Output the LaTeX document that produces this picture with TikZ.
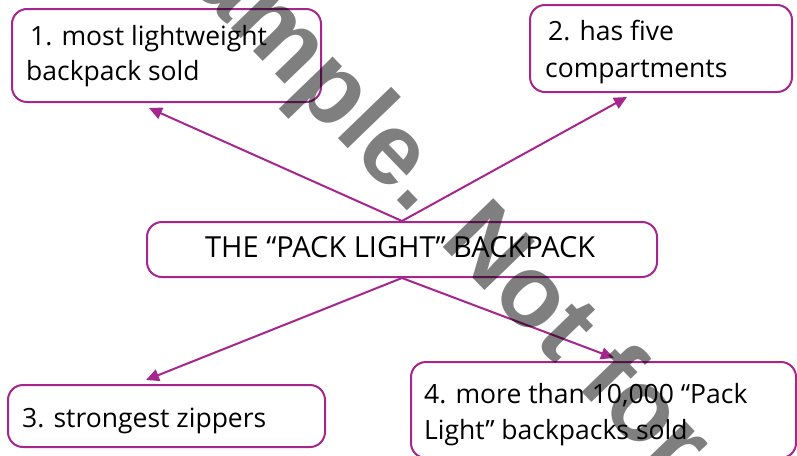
\documentclass[tikz,border=0pt]{standalone}
\usepackage{fontspec}
\setmainfont{Open Sans}
\newfontfamily\wmfont{Liberation Sans}
\usetikzlibrary{arrows.meta}
\definecolor{plum}{RGB}{165,38,140}
\begin{document}
\begin{tikzpicture}[x=1pt,y=-1pt,
  box/.style={draw=plum,line width=2pt,rounded corners=15pt,inner sep=0pt},
  txt/.style={anchor=base west,inner sep=0pt,font=\fontsize{26.5}{30}\selectfont},
  conn/.style={draw=plum,line width=2pt,-{Triangle[length=13pt,width=12pt]}}]
\useasboundingbox (0,0) rectangle (797,455);
\fill[white] (0,0) rectangle (797,455);
% boxes
\node[box,minimum width=309pt,minimum height=93pt] (b1) at (166.5,55.5) {};
\node[box,minimum width=262pt,minimum height=87pt] (b2) at (661,48.5) {};
\node[box,minimum width=510pt,minimum height=55pt] (c) at (402,249.5) {};
\node[box,minimum width=317pt,minimum height=62pt] (b3) at (166.5,416) {};
\node[box,minimum width=385pt,minimum height=96pt] (b4) at (603.5,410) {};
% texts
\node[txt] (t1a) at (30,45) {1. most lightweight};
\node[txt] (t1b) at (26,80) {backpack sold};
\node[txt] (t2a) at (548,40) {2. has five};
\node[txt] (t2b) at (545,77) {compartments};
\node[txt,font=\fontsize{29}{30}\selectfont] (tc) at (205,257) {THE “PACK LIGHT” BACKPACK};
\node[txt] (t3) at (22,427) {3. strongest zippers};
\node[txt] (t4a) at (424,403) {4. more than 10,000 “Pack};
\node[txt] (t4b) at (424,439) {Light” backpacks sold};
% arrow tips
\coordinate (p1) at (149,108);
\coordinate (p2) at (627,97);
\coordinate (p3) at (146,380);
\coordinate (p4) at (614,358);
\draw[conn] (c.north) -- (p1);
\draw[conn] (c.north) -- (p2);
\draw[conn] (c.south) -- (p3);
\draw[conn] (c.south) -- (p4);
% watermark
\node[anchor=base west,inner sep=0pt,rotate=-46,text opacity=0.5,
  font=\wmfont\bfseries\fontsize{102}{102}\selectfont] (wm) at (140,-66) {Sample. Not for sale};
\end{tikzpicture}
\end{document}
